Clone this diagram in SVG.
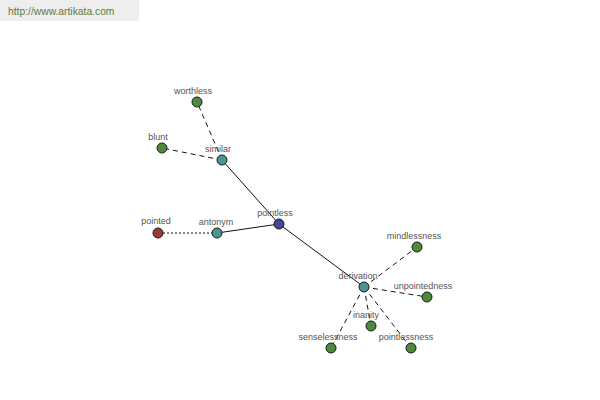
<svg xmlns="http://www.w3.org/2000/svg" width="600" height="400" viewBox="0 0 600 400">
<style>
.n{stroke:#1a1a1a;stroke-width:1}
.g{fill:#4e8a3e}.t{fill:#4a9494}.b{fill:#45459a}.r{fill:#9a3c3c}
.l{font-family:"Liberation Sans",Arial,sans-serif;font-size:9px;fill:#555;text-anchor:middle}
.e{stroke:#111;stroke-width:1;fill:none}
.d{stroke-dasharray:5,4}
.o{stroke-dasharray:2,2}
</style>
<rect width="600" height="400" fill="#fff"/>
<rect x="0" y="0" width="139" height="21" fill="#eeeeee"/>
<text x="8" y="15" font-family="Liberation Sans,Arial,sans-serif" font-size="10.3" fill="#5a7a4a">http://www.artikata.com</text>
<g id="connectors">
<line class="e" x1="279" y1="224" x2="222" y2="160"/>
<line class="e" x1="279" y1="224" x2="217" y2="233"/>
<line class="e" x1="279" y1="224" x2="364" y2="287"/>
<line class="e d" x1="222" y1="160" x2="197" y2="102"/>
<line class="e d" x1="222" y1="160" x2="162" y2="148"/>
<line class="e o" x1="217" y1="233" x2="158" y2="233"/>
<line class="e d" x1="364" y1="287" x2="417" y2="247"/>
<line class="e d" x1="364" y1="287" x2="427" y2="297"/>
<line class="e d" x1="364" y1="287" x2="371" y2="326"/>
<line class="e d" x1="364" y1="287" x2="331" y2="348"/>
<line class="e d" x1="364" y1="287" x2="411" y2="348"/>
</g>
<g id="pointless"><circle class="n b" cx="279" cy="224" r="5"/><text class="l" x="275" y="216">pointless</text></g>
<g id="similar"><circle class="n t" cx="222" cy="160" r="5"/><text class="l" x="218" y="152">similar</text></g>
<g id="antonym"><circle class="n t" cx="217" cy="233" r="5"/><text class="l" x="216" y="225">antonym</text></g>
<g id="pointed"><circle class="n r" cx="158" cy="233" r="5"/><text class="l" x="156" y="224">pointed</text></g>
<g id="worthless"><circle class="n g" cx="197" cy="102" r="5"/><text class="l" x="193" y="94">worthless</text></g>
<g id="blunt"><circle class="n g" cx="162" cy="148" r="5"/><text class="l" x="158" y="140">blunt</text></g>
<g id="derivation"><circle class="n t" cx="364" cy="287" r="5"/><text class="l" x="358" y="279">derivation</text></g>
<g id="mindlessness"><circle class="n g" cx="417" cy="247" r="5"/><text class="l" x="414" y="239">mindlessness</text></g>
<g id="unpointedness"><circle class="n g" cx="427" cy="297" r="5"/><text class="l" x="423" y="289">unpointedness</text></g>
<g id="inanity"><circle class="n g" cx="371" cy="326" r="5"/><text class="l" x="366" y="318">inanity</text></g>
<g id="senselessness"><circle class="n g" cx="331" cy="348" r="5"/><text class="l" x="328" y="340">senselessness</text></g>
<g id="pointlessness"><circle class="n g" cx="411" cy="348" r="5"/><text class="l" x="406" y="340">pointlessness</text></g>
</svg>
